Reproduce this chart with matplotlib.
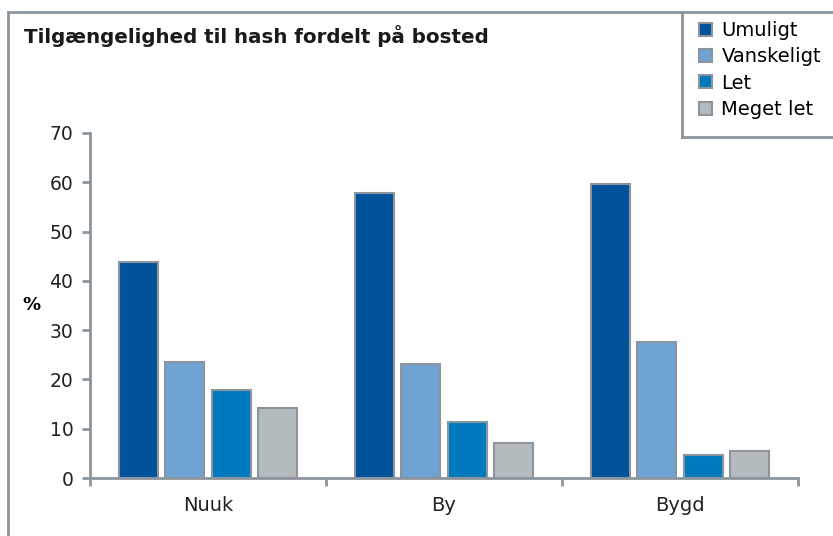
import numpy as np
import matplotlib
matplotlib.use('Agg')
from matplotlib import pyplot as plt
from matplotlib.lines import Line2D
from matplotlib.patches import Patch

# data
steder = ['Nuuk', 'By', 'Bygd']
serier = ['Umuligt', 'Vanskeligt', 'Let', 'Meget let']
umuligt = [43.9, 57.9, 59.7]
vanskeligt = [23.6, 23.2, 27.5]
let = [17.8, 11.4, 4.6]
meget_let = [14.3, 7.2, 5.4]
farver = ['#00539a', '#6fa3d4', '#0079bf', '#b3bbbf']
kant = '#8c959d'

W, H = 833, 536
fig = plt.figure(figsize=(W / 100, H / 100), dpi=100)
ax = fig.add_axes([90 / W, (H - 478) / H, (798 - 90) / W, (478 - 133) / H])

x = np.arange(len(steder)) + 0.5
bredde = 0.165
afstand = 0.197
for i, (navn, vaerdier) in enumerate(zip(serier, [umuligt, vanskeligt, let, meget_let])):
    ax.bar(x + (i - 1.5) * afstand, vaerdier, bredde, color=farver[i],
           edgecolor=kant, linewidth=1.5, label=navn, zorder=3)

ax.set_xlim(0, 3)
ax.set_ylim(0, 70)
ax.set_yticks(range(0, 71, 10))
ax.set_xticks([0, 1, 2, 3])
ax.set_xticklabels([])
ax.set_xticks(x, minor=True)
ax.set_xticklabels(steder, minor=True)
ax.tick_params(axis='x', which='minor', length=0, pad=13, labelsize=14, labelcolor='#222222')
ax.tick_params(axis='x', which='major', length=6, width=2, color=kant)
ax.tick_params(axis='y', length=6, width=2, color=kant, labelsize=13.5, labelcolor='#222222', pad=6)
for s in ['top', 'right']:
    ax.spines[s].set_visible(False)
for s in ['left', 'bottom']:
    ax.spines[s].set_color(kant)
    ax.spines[s].set_linewidth(2)

ax.set_ylabel('%', rotation=0, fontsize=13, fontweight='bold', labelpad=13, va='center')

# ramme
fig.add_artist(Line2D([8 / W, 8 / W], [0, (H - 12) / H], color=kant, lw=2))
fig.add_artist(Line2D([8 / W, 1], [(H - 12) / H, (H - 12) / H], color=kant, lw=2))
fig.add_artist(Line2D([682 / W, 682 / W], [(H - 12) / H, (H - 137) / H], color=kant, lw=2))
fig.add_artist(Line2D([682 / W, 1], [(H - 137) / H, (H - 137) / H], color=kant, lw=2))

fig.text(24 / W, (H - 36) / H, 'Tilgængelighed til hash fordelt på bosted',
         fontsize=14.3, fontweight='bold', va='center', color='#1a1a1a')

handles = [Patch(facecolor=farver[i], edgecolor=kant, linewidth=1.5) for i in range(4)]
fig.legend(handles, serier, loc='upper left', bbox_to_anchor=(699 / W, (H - 21) / H),
           frameon=False, fontsize=14, handlelength=0.65, handleheight=0.65,
           handletextpad=0.5, labelspacing=0.38, borderpad=0, borderaxespad=0)

fig.savefig('out.png', dpi=100)
